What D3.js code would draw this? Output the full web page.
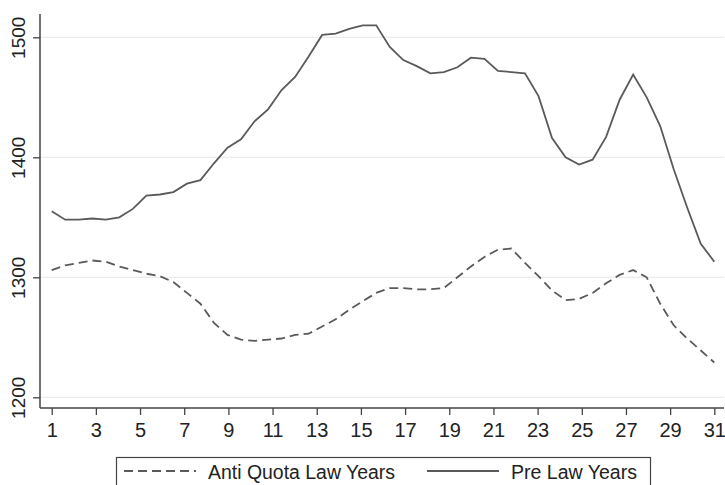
<!DOCTYPE html>
<html>
<head>
<meta charset="utf-8">
<script src="https://cdn.jsdelivr.net/npm/d3@7"></script>
<style>
  html, body { margin: 0; padding: 0; background: #fff; }
  svg { display: block; }
  text { font-family: "Liberation Sans", Arial, sans-serif; fill: #222; }
</style>
</head>
<body>
<svg id="chart" width="725" height="485"></svg>
<script>
// Tick labels shown on each axis
const xTickLabels = [1, 3, 5, 7, 9, 11, 13, 15, 17, 19, 21, 23, 25, 27, 29, 31];
const yTickLabels = [1200, 1300, 1400, 1500];

// Series names
const seriesNames = ["Anti Quota Law Years", "Pre Law Years"];

// Smoothed series, 50 evenly spaced observations spanning 1 to 31
const antiQuota = [
  1306, 1310, 1312, 1314, 1313, 1309, 1306, 1303, 1301, 1296,
  1287, 1278, 1262, 1252, 1248, 1247, 1248, 1249, 1252, 1253,
  1259, 1265, 1273, 1280, 1287, 1291, 1291, 1290, 1290, 1291,
  1300, 1309, 1317, 1323, 1324, 1312, 1301, 1289, 1281, 1282,
  1287, 1295, 1302, 1306, 1300, 1278, 1260, 1249, 1239, 1229
];
const preLaw = [
  1355, 1348, 1348, 1349, 1348, 1350, 1357, 1368, 1369, 1371,
  1378, 1381, 1395, 1408, 1415, 1430, 1440, 1456, 1467, 1484,
  1502, 1503, 1507, 1510, 1510, 1492, 1481, 1476, 1470, 1471,
  1475, 1483, 1482, 1472, 1471, 1470, 1451, 1416, 1400, 1394,
  1398, 1417, 1448, 1469, 1450, 1426, 1390, 1358, 1328, 1313
];

const svg = d3.select("#chart");
const plot = { left: 40, right: 724, top: 14, bottom: 408 };

// Axis scale over the labelled range, and a point scale for the observations
const x = d3.scaleLinear().domain([1, 31]).range([51.7, 714.3]);
const xObs = d3.scalePoint().domain(d3.range(antiQuota.length)).range([x(1), x(31)]);
const y = d3.scaleLinear().domain([1200, 1500]).range([397.3, 37.3]);

const lineColor = "#5a5a5a";
const axisColor = "#444";

// Horizontal gridlines
svg.append("g")
  .selectAll("line")
  .data(yTickLabels)
  .join("line")
  .attr("x1", plot.left)
  .attr("x2", plot.right)
  .attr("y1", d => y(d))
  .attr("y2", d => y(d))
  .attr("stroke", "#ebebeb")
  .attr("stroke-width", 1.2);

// Y axis
const yAxis = svg.append("g")
  .attr("transform", `translate(${plot.left},0)`)
  .call(d3.axisLeft(y).tickValues(yTickLabels).tickSize(7).tickPadding(0).tickFormat(d3.format("d")));
yAxis.select(".domain").remove();
yAxis.selectAll(".tick line").attr("stroke", axisColor).attr("stroke-width", 1.3);
yAxis.selectAll(".tick text")
  .attr("transform", "rotate(-90)")
  .attr("x", 0)
  .attr("y", -15)
  .attr("dy", 0)
  .attr("text-anchor", "middle")
  .style("font-size", "19px")
  .style("fill", "#222");
svg.append("line")
  .attr("x1", plot.left).attr("x2", plot.left)
  .attr("y1", plot.top).attr("y2", plot.bottom)
  .attr("stroke", axisColor).attr("stroke-width", 1.5);

// X axis
const xAxis = svg.append("g")
  .attr("transform", `translate(0,${plot.bottom})`)
  .call(d3.axisBottom(x).tickValues(xTickLabels).tickSize(7).tickPadding(8).tickFormat(d3.format("d")));
xAxis.select(".domain").remove();
xAxis.selectAll(".tick line").attr("stroke", axisColor).attr("stroke-width", 1.3);
xAxis.selectAll(".tick text")
  .style("font-size", "20px")
  .style("fill", "#222");
svg.append("line")
  .attr("x1", plot.left).attr("x2", plot.right)
  .attr("y1", plot.bottom).attr("y2", plot.bottom)
  .attr("stroke", axisColor).attr("stroke-width", 1.5);

// Series lines
const line = d3.line()
  .x((d, i) => xObs(i))
  .y(d => y(d));

svg.append("path")
  .datum(antiQuota)
  .attr("d", line)
  .attr("fill", "none")
  .attr("stroke", lineColor)
  .attr("stroke-width", 1.8)
  .attr("stroke-dasharray", "9,5");

svg.append("path")
  .datum(preLaw)
  .attr("d", line)
  .attr("fill", "none")
  .attr("stroke", lineColor)
  .attr("stroke-width", 1.8);

// Legend
const legend = svg.append("g");
legend.append("rect")
  .attr("x", 116.5).attr("y", 457.5)
  .attr("width", 534).attr("height", 34)
  .attr("fill", "#fff")
  .attr("stroke", axisColor)
  .attr("stroke-width", 1.2);

const legendItems = [
  { name: seriesNames[0], x1: 124, x2: 196, tx: 208, len: 187, dash: "9,5" },
  { name: seriesNames[1], x1: 427, x2: 499, tx: 511, len: 126, dash: null }
];
legendItems.forEach(it => {
  legend.append("line")
    .attr("x1", it.x1).attr("x2", it.x2)
    .attr("y1", 471).attr("y2", 471)
    .attr("stroke", lineColor)
    .attr("stroke-width", 1.8)
    .attr("stroke-dasharray", it.dash);
  legend.append("text")
    .attr("x", it.tx).attr("y", 479)
    .attr("textLength", it.len)
    .attr("lengthAdjust", "spacingAndGlyphs")
    .style("font-size", "20px")
    .text(it.name);
});
</script>
</body>
</html>
